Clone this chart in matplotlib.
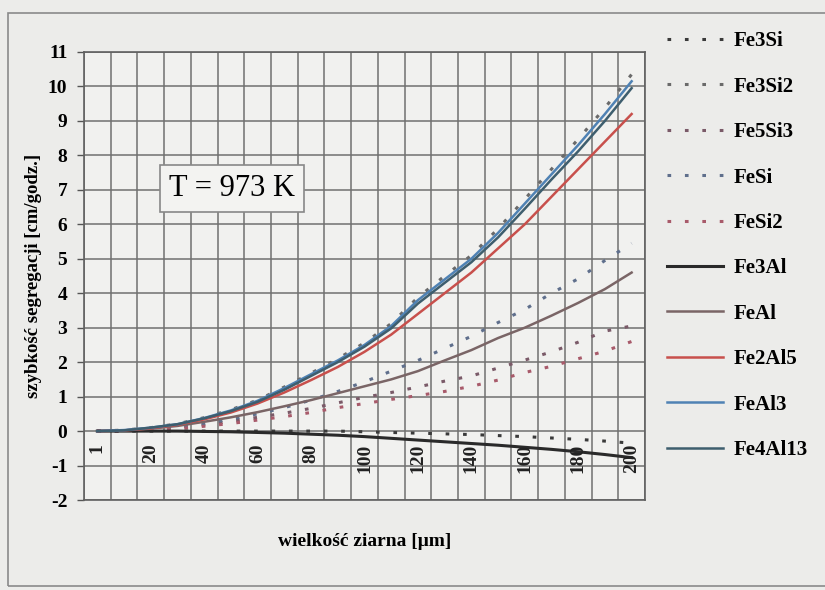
import matplotlib
matplotlib.use("Agg")
import matplotlib.pyplot as plt
from matplotlib.patches import Rectangle
import numpy as np

# grain size categories (um) and tick labels shown on the axis
sizes = [1, 10, 20, 30, 40, 50, 60, 70, 80, 90, 100,
         110, 120, 130, 140, 150, 160, 170, 180, 190, 200]
shown = ["1", "20", "40", "60", "80", "100", "120", "140", "160", "180", "200"]

# segregation rate [cm/h]
fe3si = [0, 0, 0, 0, 0, 0, 0, 0, 0, 0, -0.02, -0.04, -0.06, -0.08, -0.1,
         -0.13, -0.16, -0.2, -0.24, -0.29, -0.35]
fe3si2 = [0, 0.03, 0.1, 0.21, 0.39, 0.62, 0.9, 1.28, 1.68, 2.1, 2.56, 3.12,
          3.88, 4.5, 5.1, 5.87, 6.73, 7.6, 8.47, 9.38, 10.35]
fe5si3 = [0, 0.01, 0.04, 0.1, 0.18, 0.28, 0.4, 0.52, 0.66, 0.82, 0.98, 1.12,
          1.28, 1.45, 1.6, 1.83, 2.06, 2.3, 2.58, 2.9, 3.05]
fesi = [0, 0.01, 0.05, 0.12, 0.22, 0.35, 0.5, 0.68, 0.9, 1.15, 1.43, 1.74,
        2.05, 2.4, 2.75, 3.15, 3.53, 4.0, 4.42, 4.95, 5.45]
fesi2 = [0, 0.01, 0.03, 0.07, 0.14, 0.22, 0.32, 0.42, 0.54, 0.68, 0.8, 0.92,
         1.03, 1.15, 1.3, 1.48, 1.7, 1.88, 2.1, 2.32, 2.6]
fe3al = [0, 0, 0, 0, -0.01, -0.02, -0.04, -0.06, -0.09, -0.12, -0.16, -0.21,
         -0.26, -0.31, -0.36, -0.41, -0.47, -0.53, -0.6, -0.68, -0.77]
feal = [0, 0.02, 0.07, 0.15, 0.27, 0.4, 0.55, 0.72, 0.9, 1.1, 1.3, 1.5,
        1.74, 2.05, 2.35, 2.7, 3.0, 3.35, 3.72, 4.12, 4.6]
fe2al5 = [0, 0.02, 0.08, 0.18, 0.34, 0.54, 0.8, 1.12, 1.48, 1.86, 2.3, 2.8,
          3.4, 4.0, 4.6, 5.3, 6.0, 6.8, 7.6, 8.4, 9.2]
feal3 = [0, 0.03, 0.1, 0.2, 0.38, 0.6, 0.88, 1.25, 1.65, 2.05, 2.5, 3.05,
         3.8, 4.4, 5.0, 5.75, 6.6, 7.45, 8.3, 9.2, 10.15]
fe4al13 = [0, 0.02, 0.1, 0.2, 0.37, 0.58, 0.85, 1.2, 1.6, 2.0, 2.45, 2.98,
           3.7, 4.3, 4.9, 5.62, 6.45, 7.3, 8.12, 9.0, 9.95]

plt.rcParams['font.family'] = ['Liberation Serif', 'DejaVu Serif']
plt.rcParams['axes.unicode_minus'] = False

fig = plt.figure(figsize=(8.25, 5.9), dpi=100, facecolor='#ececea')
ax = fig.add_axes([0.1018, 0.1525, 0.68, 0.7594])
ax.set_facecolor('#f1f1ef')

# outer frame of the chart object
fig.patches.append(Rectangle((8 / 825, 4 / 590), 1.0, 1 - 17 / 590,
                             transform=fig.transFigure, fill=False,
                             edgecolor='#8a8a8a', lw=1.2))

x = np.arange(len(sizes))
dot = (0, (1.2, 4.5))

ax.plot(x, fe3si, color='#3a3a3a', lw=2.2, ls=dot, label='Fe3Si')
ax.plot(x, fe3si2, color='#6a6a6a', lw=2.2, ls=dot, label='Fe3Si2')
ax.plot(x, fe5si3, color='#7a5a68', lw=2.2, ls=dot, label='Fe5Si3')
ax.plot(x, fesi, color='#5f6f8c', lw=2.2, ls=dot, label='FeSi')
ax.plot(x, fesi2, color='#a85a6a', lw=2.2, ls=dot, label='FeSi2')
ax.plot(x, fe3al, color='#2a2a2a', lw=2.2, label='Fe3Al')
ax.plot(x, feal, color='#7a6566', lw=1.8, label='FeAl')
ax.plot(x, fe2al5, color='#c8504c', lw=1.8, label='Fe2Al5')
ax.plot(x, feal3, color='#4f82b4', lw=1.8, label='FeAl3')
ax.plot(x, fe4al13, color='#3e5e6e', lw=1.8, label='Fe4Al13')

ax.set_xlim(-0.5, len(sizes) - 0.5)
ax.set_ylim(-2, 11)
ax.set_yticks(range(-2, 12))
ax.set_xticks([])
ax.set_xticks(np.arange(-0.5, len(sizes), 1.0), minor=True)
ax.tick_params(axis='x', which='both', length=0)
ax.tick_params(axis='y', length=5, width=1, color='#555555', pad=7,
               labelsize=14)
for lab in ax.get_yticklabels():
    lab.set_fontweight('bold')
ax.grid(True, which='major', axis='y', color='#707070', lw=1.1)
ax.grid(True, which='minor', axis='x', color='#707070', lw=1.1)
ax.set_axisbelow(True)
for s in ax.spines.values():
    s.set_color('#606060')
    s.set_linewidth(1.2)

# category labels sit just under the zero line, rotated
for i, s in enumerate(sizes):
    if str(s) in shown:
        ax.text(i, -0.36, str(s), rotation=90, ha='center', va='top',
                fontsize=14, fontweight='bold', color='#222222')

ax.set_ylabel('szybkość segregacji [cm/godz.]', fontsize=13.5,
              fontweight='bold', labelpad=4)
ax.set_xlabel('wielkość ziarna [μm]', fontsize=14, fontweight='bold',
              labelpad=20)

ax.text(0.264, 0.696, 'T = 973 K', transform=ax.transAxes, fontsize=22,
        ha='center', va='center',
        bbox=dict(boxstyle='square,pad=0.3', facecolor='#f3f3f1',
                  edgecolor='#888888', lw=1.2))

ax.legend(loc='upper left', bbox_to_anchor=(0.808, 0.947),
          bbox_transform=fig.transFigure, frameon=False,
          prop={'weight': 'bold', 'size': 15}, labelspacing=1.22,
          handlelength=2.7, handletextpad=0.5, borderpad=0,
          borderaxespad=0)

fig.savefig('out.png', dpi=100, facecolor=fig.get_facecolor())
